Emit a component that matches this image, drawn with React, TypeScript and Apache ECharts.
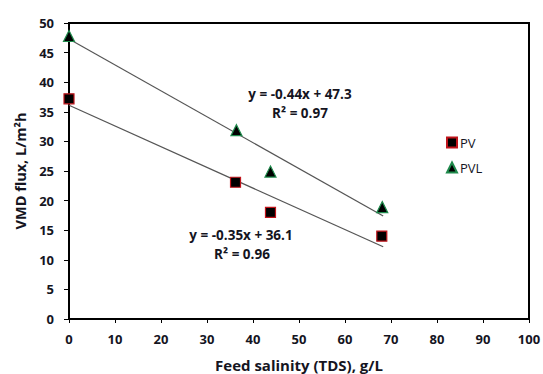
import React, { useEffect, useRef } from "react";
import * as echarts from "echarts";

const salinityPV = [0, 36.2, 43.8, 68];
const fluxPV = [37.2, 23.1, 18.0, 14.0];
const salinityPVL = [0, 36.4, 43.8, 68.1];
const fluxPVL = [47.8, 31.9, 24.9, 18.9];

const fitPVx = [0, 68.3];
const fitPVy = [36.1, 12.2];
const fitPVLx = [0, 68.3];
const fitPVLy = [47.3, 17.4];

const xTicks = [0, 100, 10];
const yTicks = [0, 50, 5];

const eqPV = ["y = -0.35x + 36.1", "R² = 0.96"];
const eqPVL = ["y = -0.44x + 47.3", "R² = 0.97"];

const FONT = "'Open Sans', 'Noto Sans', sans-serif";
const TXT = "#15151f";

export default function App() {
  const ref = useRef<HTMLDivElement>(null);
  useEffect(() => {
    if (!ref.current) return;
    const chart = echarts.init(ref.current, null, { renderer: "svg" });
    const zip = (xs: number[], ys: number[]) => xs.map((x, i) => [x, ys[i]]);
    const eqStyle = (text: string) => ({
      text,
      font: `bold 13.5px ${FONT}`,
      fill: TXT,
      align: "center",
      verticalAlign: "middle",
    });
    chart.setOption({
      animation: false,
      textStyle: { fontFamily: FONT },
      grid: {
        left: 69,
        right: 14,
        top: 23,
        bottom: 55,
        show: true,
        borderColor: "#000",
        borderWidth: 2,
        containLabel: false,
        outerBoundsMode: "none",
      },
      xAxis: {
        type: "value",
        min: xTicks[0],
        max: xTicks[1],
        interval: xTicks[2],
        name: "Feed salinity (TDS), g/L",
        nameLocation: "middle",
        nameGap: 38,
        nameTextStyle: { fontFamily: FONT, fontWeight: "bold", fontSize: 15, color: TXT },
        axisLine: { lineStyle: { color: "#000", width: 2 } },
        axisTick: { show: true, length: 4, lineStyle: { color: "#000" } },
        axisLabel: { fontFamily: FONT, fontWeight: "bold", fontSize: 13, color: TXT, margin: 13 },
        splitLine: { show: false },
      },
      yAxis: {
        type: "value",
        min: yTicks[0],
        max: yTicks[1],
        interval: yTicks[2],
        name: "VMD flux, L/m²h",
        nameLocation: "middle",
        nameGap: 39,
        nameTextStyle: { fontFamily: FONT, fontWeight: "bold", fontSize: 14.5, color: TXT },
        axisLine: { lineStyle: { color: "#000", width: 2 } },
        axisTick: { show: true, length: 5, lineStyle: { color: "#000" } },
        axisLabel: { fontFamily: FONT, fontWeight: "bold", fontSize: 13, color: TXT, margin: 15 },
        splitLine: { show: false },
      },
      legend: {
        data: ["PV", "PVL"],
        orient: "vertical",
        left: 441,
        top: 131,
        itemWidth: 10,
        itemHeight: 10,
        itemGap: 12,
        textStyle: { fontFamily: FONT, fontSize: 13, color: TXT, padding: [0, 0, 0, -2] },
      },
      graphic: [
        { type: "text", x: 300, y: 94, style: eqStyle(eqPVL[0]) },
        { type: "text", x: 300, y: 112.5, style: eqStyle(eqPVL[1]) },
        { type: "text", x: 241, y: 235, style: eqStyle(eqPV[0]) },
        { type: "text", x: 242, y: 254, style: eqStyle(eqPV[1]) },
      ],
      series: [
        {
          name: "fitPV",
          type: "line",
          data: zip(fitPVx, fitPVy),
          symbol: "none",
          lineStyle: { color: "#555", width: 1.2 },
          z: 1,
        },
        {
          name: "fitPVL",
          type: "line",
          data: zip(fitPVLx, fitPVLy),
          symbol: "none",
          lineStyle: { color: "#555", width: 1.2 },
          z: 1,
        },
        {
          name: "PV",
          type: "scatter",
          data: zip(salinityPV, fluxPV),
          symbol: "rect",
          symbolSize: 10,
          itemStyle: { color: "#000", borderColor: "#c0141b", borderWidth: 1.2, opacity: 1 },
          z: 3,
        },
        {
          name: "PVL",
          type: "scatter",
          data: zip(salinityPVL, fluxPVL),
          symbol: "triangle",
          symbolSize: 11,
          itemStyle: { color: "#000", borderColor: "#1f8a4c", borderWidth: 1.2, opacity: 1 },
          z: 3,
        },
      ],
    });
    return () => chart.dispose();
  }, []);
  return <div ref={ref} style={{ width: 543, height: 374, position: "absolute", left: 0, top: 0 }} />;
}
